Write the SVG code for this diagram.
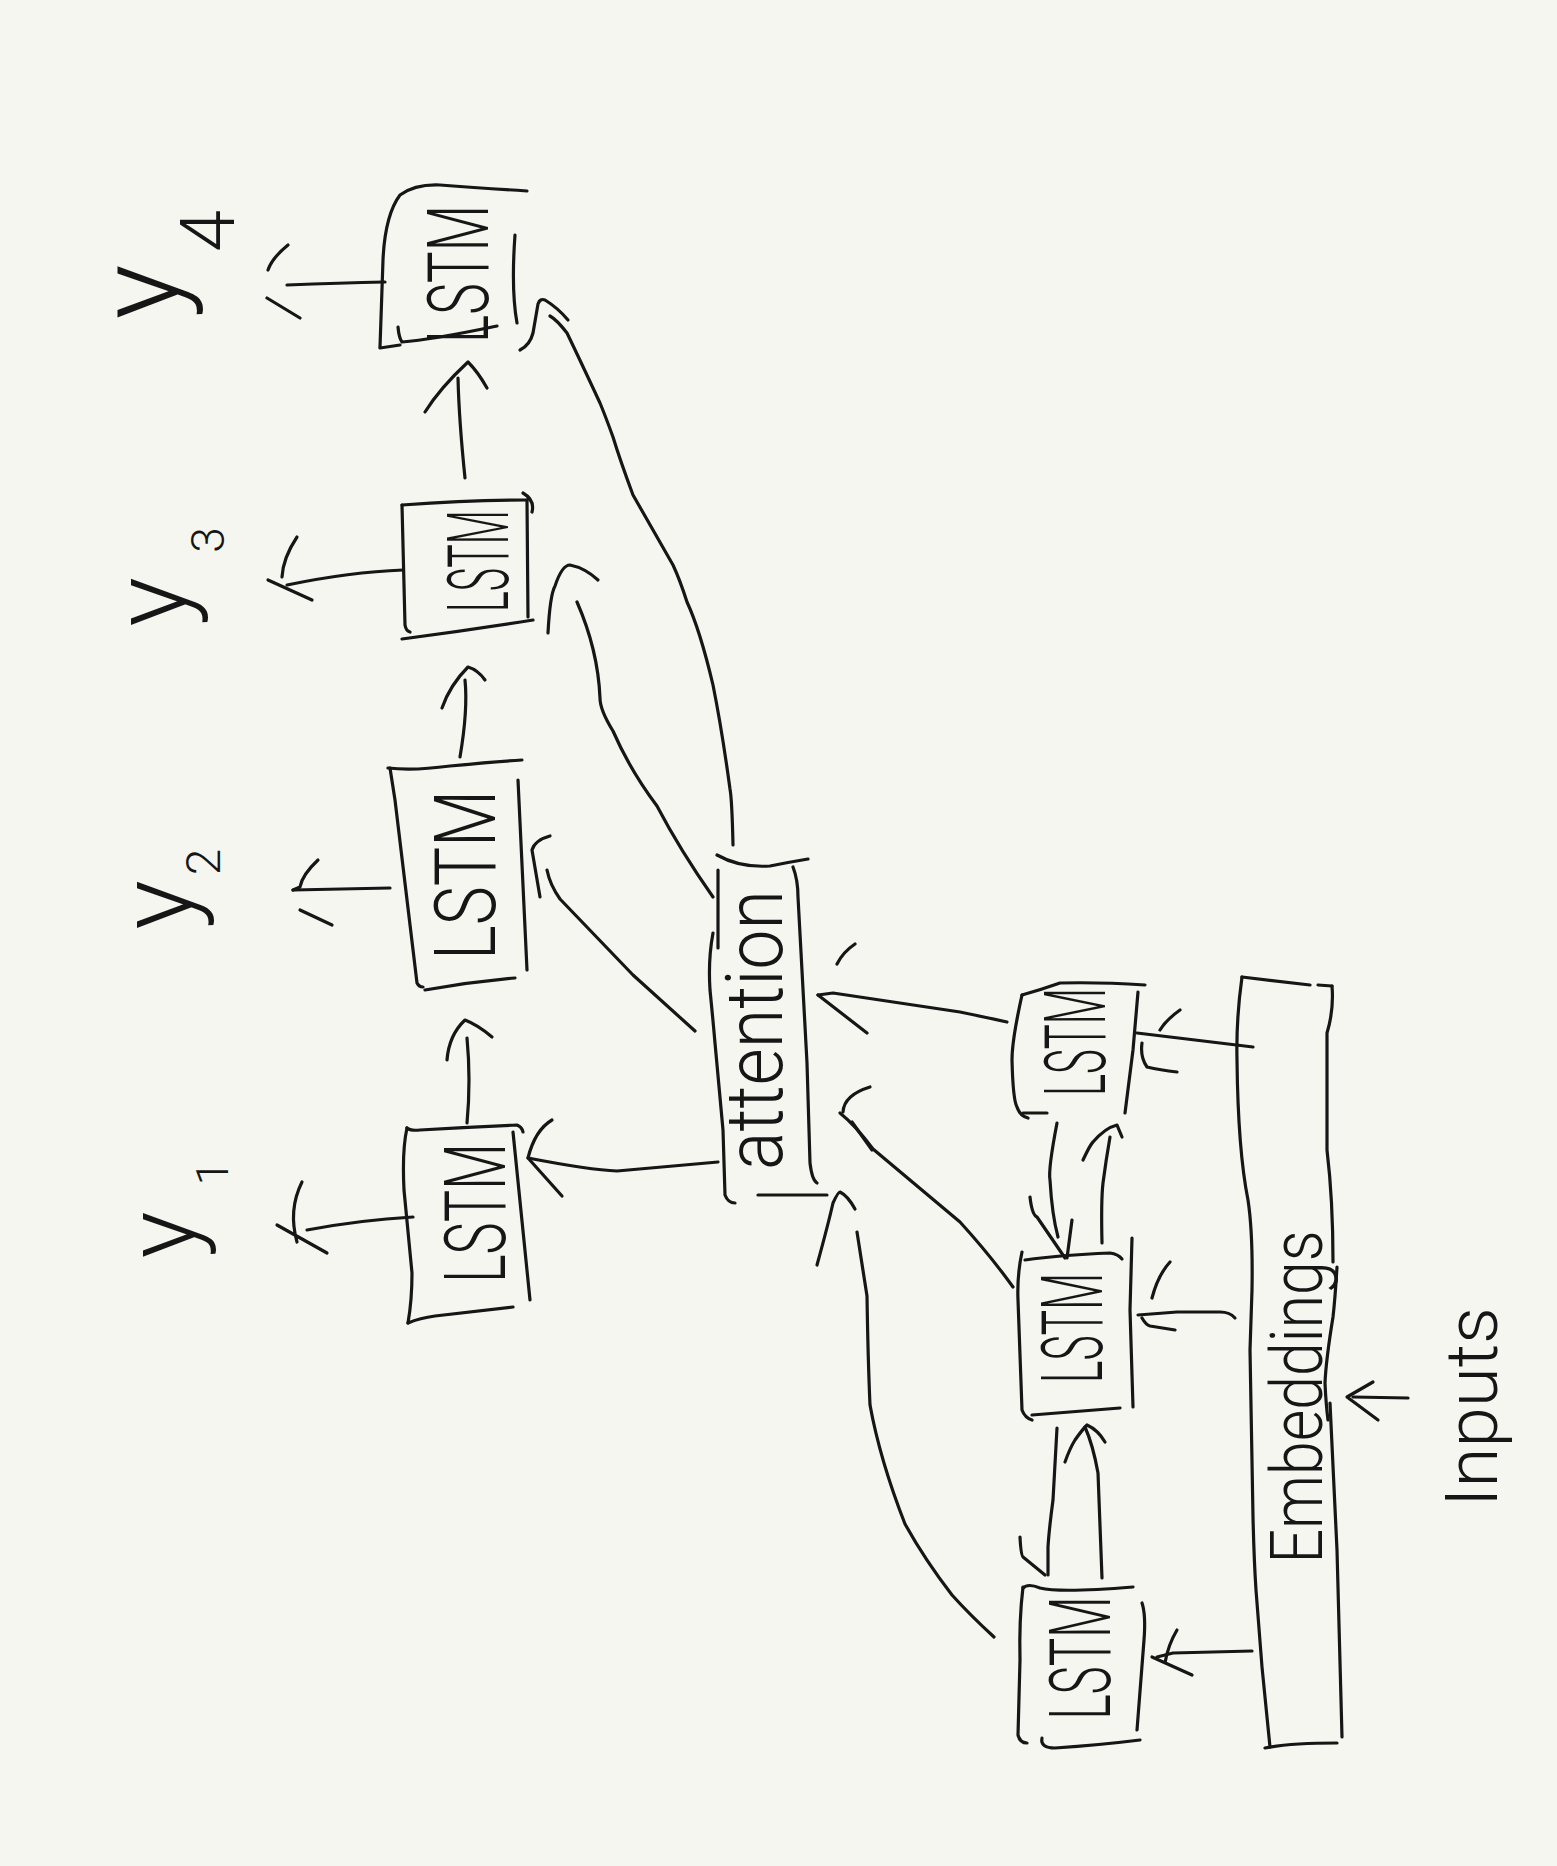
<svg xmlns="http://www.w3.org/2000/svg" width="1557" height="1866" viewBox="0 0 1557 1866">
<style>
.s{fill:none;stroke:#161616;stroke-width:3.2;stroke-linecap:round;stroke-linejoin:round}
.t{font-family:Roboto,"Liberation Sans",sans-serif;font-weight:300;fill:#161616;text-anchor:middle}
.lt{font-size:86px}
</style>
<rect x="0" y="0" width="1557" height="1866" fill="#f6f6f1"/>

<g id="connectors">
  <!-- decoder chain -->
  <path class="s" d="M467,1123 Q471,1080 467,1038"/>
  <path class="s" d="M447,1060 Q449,1035 465,1020 Q478,1025 492,1037"/>
  <path class="s" d="M460,757 Q468,710 465,680"/>
  <path class="s" d="M442,708 Q450,685 468,667 Q478,670 485,680"/>
  <path class="s" d="M465,478 Q459,420 458,378"/>
  <path class="s" d="M425,412 Q440,388 468,362 Q478,372 487,388"/>
  <!-- decoder outputs -->
  <path class="s" d="M385,282 Q340,283 287,285"/>
  <path class="s" d="M288,245 Q272,258 268,270 M267,298 L300,318"/>
  <path class="s" d="M403,570 Q350,572 287,585"/>
  <path class="s" d="M297,537 Q283,558 282,577 M268,580 L312,600"/>
  <path class="s" d="M390,888 L293,890"/>
  <path class="s" d="M318,860 Q302,875 300,887 L293,890 M300,910 L332,925"/>
  <path class="s" d="M413,1217 Q360,1220 307,1230"/>
  <path class="s" d="M302,1182 Q288,1210 297,1242 M277,1225 L327,1253"/>
  <!-- attention to decoders -->
  <path class="s" d="M718,1162 Q650,1168 617,1171 Q590,1170 528,1158"/>
  <path class="s" d="M552,1120 Q535,1130 528,1158 L562,1196"/>
  <path class="s" d="M695,1031 L633,975 L560,899 Q550,885 547,870"/>
  <path class="s" d="M550,836 Q535,840 532,850 L540,897"/>
  <path class="s" d="M713,897 Q680,850 657,806 Q630,770 613,731 Q600,710 600,698 Q598,650 577,602"/>
  <path class="s" d="M548,633 Q550,595 555,586 Q562,565 570,565 Q585,568 598,580"/>
  <path class="s" d="M733,845 Q732,800 730,789 Q722,730 713,685 Q700,630 687,602 Q680,580 673,565 Q650,525 633,495 Q620,460 613,437 Q605,415 600,403 Q580,360 567,333 Q557,320 550,316"/>
  <path class="s" d="M520,350 Q530,345 533,333 Q537,310 538,304 Q540,298 545,300 Q558,308 568,320"/>
  <!-- encoder to attention -->
  <path class="s" d="M1007,1022 Q980,1016 960,1012 Q900,1003 833,993 L818,995"/>
  <path class="s" d="M818,995 L867,1033 M837,964 Q843,952 855,944"/>
  <path class="s" d="M1013,1287 Q990,1255 960,1222 L873,1149 Q855,1125 840,1113"/>
  <path class="s" d="M843,1112 Q844,1095 870,1087 M852,1122 L872,1150"/>
  <path class="s" d="M994,1637 Q970,1615 952,1595 Q925,1560 905,1524 Q880,1460 870,1405 Q868,1360 867,1296 L857,1232"/>
  <path class="s" d="M817,1265 Q828,1225 833,1203 Q838,1192 840,1192 Q848,1196 855,1209"/>
  <!-- encoder chain -->
  <path class="s" d="M1057,1123 Q1048,1170 1050,1180 Q1052,1215 1058,1237"/>
  <path class="s" d="M1030,1197 Q1032,1215 1037,1217 L1065,1258 M1072,1220 L1067,1258"/>
  <path class="s" d="M1102,1243 Q1101,1200 1103,1183 Q1106,1160 1110,1137"/>
  <path class="s" d="M1083,1160 Q1090,1145 1093,1142 Q1105,1128 1117,1125 L1122,1137"/>
  <path class="s" d="M1057,1428 L1053,1500 Q1049,1530 1048,1547 L1048,1575"/>
  <path class="s" d="M1020,1537 Q1021,1557 1023,1557 L1045,1575"/>
  <path class="s" d="M1102,1578 L1098,1473 Q1093,1445 1085,1427"/>
  <path class="s" d="M1065,1462 Q1070,1448 1075,1440 Q1082,1430 1087,1425 Q1098,1430 1105,1442"/>
  <!-- embeddings to encoders -->
  <path class="s" d="M1253,1047 L1137,1033"/>
  <path class="s" d="M1180,1010 Q1166,1020 1160,1030 M1142,1043 Q1140,1057 1147,1067 Q1160,1070 1177,1072"/>
  <path class="s" d="M1235,1318 Q1230,1312 1220,1312 L1177,1312 L1138,1315"/>
  <path class="s" d="M1170,1262 Q1158,1275 1152,1298 M1142,1318 Q1146,1325 1150,1326 L1175,1330"/>
  <path class="s" d="M1252,1651 L1173,1653 L1157,1657"/>
  <path class="s" d="M1177,1630 Q1168,1645 1165,1663 M1152,1657 L1192,1675"/>
  <!-- inputs to embeddings -->
  <path class="s" d="M1408,1398 L1353,1397"/>
  <path class="s" d="M1373,1382 L1347,1397 L1378,1420"/>
</g>

<g id="dec4">
  <path class="s" d="M380,347 L383,260 Q385,215 400,195 Q415,184 440,185 Q480,188 527,191"/>
  <path class="s" d="M380,348 L400,345 M398,327 Q399,338 402,342 Q430,340 497,326"/>
  <path class="s" d="M515,235 Q511,290 517,323"/>
  <text class="t lt" transform="translate(488,274) rotate(-90)" textLength="138" lengthAdjust="spacingAndGlyphs">LSTM</text>
</g>
<g id="dec3">
  <path class="s" d="M402,505 Q470,500 527,500 M523,493 Q535,500 532,512"/>
  <path class="s" d="M402,505 L405,625 Q406,631 410,632"/>
  <path class="s" d="M402,639 Q470,630 533,620"/>
  <path class="s" d="M527,500 L528,617"/>
  <text class="t lt" transform="translate(508,561) rotate(-90)" textLength="102" lengthAdjust="spacingAndGlyphs">LSTM</text>
</g>
<g id="dec2">
  <path class="s" d="M388,768 Q413,771 450,766 Q490,762 522,760"/>
  <path class="s" d="M390,768 L395,800 L417,983 Q419,987 423,987"/>
  <path class="s" d="M425,990 Q470,982 515,978"/>
  <path class="s" d="M518,780 L527,970"/>
  <text class="t lt" transform="translate(495,875) rotate(-90)" textLength="170" lengthAdjust="spacingAndGlyphs">LSTM</text>
</g>
<g id="dec1">
  <path class="s" d="M407,1128 Q410,1131 420,1130 Q470,1127 517,1125 Q522,1127 523,1132"/>
  <path class="s" d="M407,1128 Q402,1150 404,1190 L412,1273 Q412,1300 408,1323"/>
  <path class="s" d="M408,1323 Q420,1318 435,1316 L513,1307"/>
  <path class="s" d="M513,1132 Q520,1200 530,1300"/>
  <text class="t lt" transform="translate(505,1213) rotate(-90)" textLength="140" lengthAdjust="spacingAndGlyphs">LSTM</text>
</g>

<g id="y4">
  <text class="t" font-size="115" transform="translate(178,292) rotate(-90)">y</text>
  <text class="t" font-size="76" transform="translate(234,231) rotate(-90)">4</text>
</g>
<g id="y3">
  <text class="t" font-size="104" transform="translate(186,602) rotate(-90)">y</text>
  <text class="t" font-size="46" transform="translate(224,540) rotate(-90)">3</text>
</g>
<g id="y2">
  <text class="t" font-size="104" transform="translate(192,905) rotate(-90)">y</text>
  <text class="t" font-size="48" transform="translate(220,862) rotate(-90)">2</text>
</g>
<g id="y1">
  <text class="t" font-size="98" transform="translate(195,1235) rotate(-90)">y</text>
  <text class="t" font-size="44" transform="translate(228,1173) rotate(-90)">1</text>
</g>

<g id="attention">
  <path class="s" d="M717,855 Q740,868 770,866 Q790,862 808,859"/>
  <path class="s" d="M718,870 L718,948"/>
  <path class="s" d="M713,933 Q708,960 710,990 Q713,1020 715,1043 L723,1130 L725,1195 Q728,1203 735,1203"/>
  <path class="s" d="M758,1195 L827,1195"/>
  <path class="s" d="M793,867 Q798,880 798,897 L807,1063 L810,1163 Q812,1180 817,1183"/>
  <text class="t" font-size="80" transform="translate(782,1030) rotate(-90)" textLength="280" lengthAdjust="spacingAndGlyphs">attention</text>
</g>

<g id="encA">
  <path class="s" d="M1022,995 Q1040,990 1060,983 Q1100,982 1145,985"/>
  <path class="s" d="M1022,995 Q1012,1040 1012,1060 Q1013,1100 1017,1107 Q1020,1116 1028,1118"/>
  <path class="s" d="M1023,1113 L1047,1113"/>
  <path class="s" d="M1138,992 L1133,1050 L1125,1113"/>
  <text class="t lt" transform="translate(1105,1042) rotate(-90)" textLength="108" lengthAdjust="spacingAndGlyphs">LSTM</text>
</g>
<g id="encB">
  <path class="s" d="M1025,1260 Q1060,1255 1110,1253 Q1118,1254 1122,1259"/>
  <path class="s" d="M1022,1252 Q1017,1275 1018,1300 L1022,1410 Q1025,1418 1032,1420"/>
  <path class="s" d="M1032,1415 L1120,1408"/>
  <path class="s" d="M1132,1238 L1130,1310 L1133,1407"/>
  <text class="t lt" transform="translate(1102,1328) rotate(-90)" textLength="110" lengthAdjust="spacingAndGlyphs">LSTM</text>
</g>
<g id="encC">
  <path class="s" d="M1023,1588 Q1028,1583 1040,1588 Q1060,1593 1133,1587"/>
  <path class="s" d="M1023,1587 Q1019,1620 1020,1660 L1018,1735 Q1020,1743 1027,1743"/>
  <path class="s" d="M1042,1738 Q1040,1748 1055,1748 Q1100,1745 1140,1740"/>
  <path class="s" d="M1142,1603 Q1146,1615 1144,1640 L1137,1730"/>
  <text class="t lt" transform="translate(1110,1658) rotate(-90)" textLength="123" lengthAdjust="spacingAndGlyphs">LSTM</text>
</g>

<g id="embeddings">
  <path class="s" d="M1242,977 L1310,985 M1318,985 L1332,986"/>
  <path class="s" d="M1242,977 Q1236,1020 1237,1060 Q1238,1150 1248,1200 Q1253,1233 1252,1290 L1250,1350 L1253,1517 Q1254,1560 1256,1590 Q1260,1640 1262,1667 L1270,1747"/>
  <path class="s" d="M1332,986 Q1334,1010 1327,1033 L1327,1150 Q1333,1200 1333,1262"/>
  <path class="s" d="M1337,1267 Q1335,1300 1333,1317 Q1326,1360 1325,1383 Q1326,1405 1328,1420"/>
  <path class="s" d="M1330,1403 L1337,1550 L1342,1737"/>
  <path class="s" d="M1265,1748 Q1290,1743 1337,1743"/>
  <text class="t" font-size="72" transform="translate(1322,1397) rotate(-90)" textLength="333" lengthAdjust="spacingAndGlyphs">Embeddings</text>
</g>

<g id="inputs">
  <text class="t" font-size="72" transform="translate(1497,1407) rotate(-90)" textLength="200" lengthAdjust="spacingAndGlyphs">Inputs</text>
</g>
</svg>
